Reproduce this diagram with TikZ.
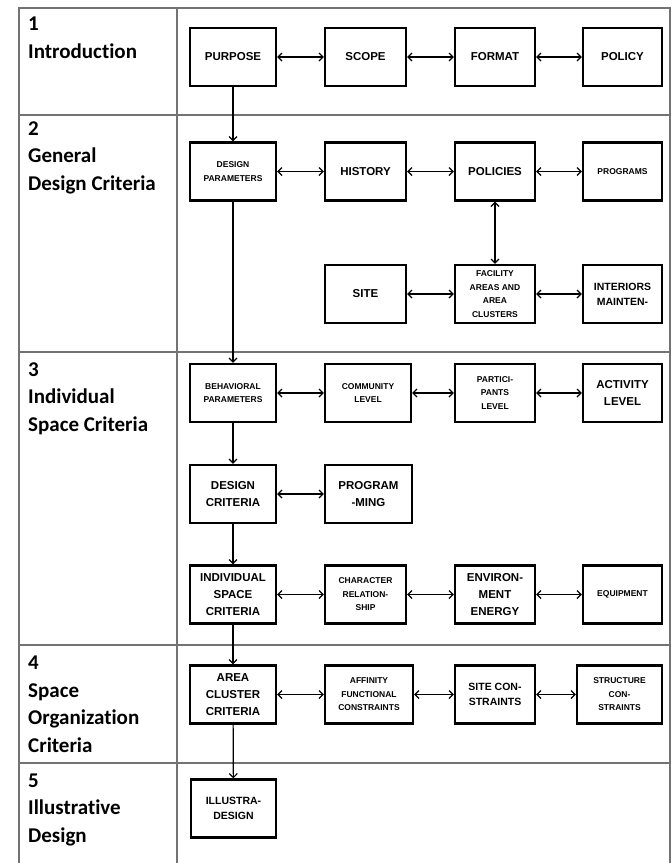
\documentclass[tikz,border=0pt]{standalone}
\usepackage{fontspec}
\usetikzlibrary{arrows.meta}
\newfontfamily\boxfont{Liberation Sans}
\newfontfamily\labfont[Ligatures=NoCommon]{Carlito}

\begin{document}
\begin{tikzpicture}[x=1pt,y=-1pt,
  grid/.style={draw=black!55, line width=1.4pt},
  blk/.style={draw, line width=2.3pt, minimum width=81pt, minimum height=58pt, inner sep=1pt, align=center},
  bigtxt/.style={font=\boxfont\bfseries\fontsize{11.5}{17}\selectfont},
  midtxt/.style={font=\boxfont\bfseries\fontsize{10.5}{15}\selectfont},
  smltxt/.style={font=\boxfont\bfseries\fontsize{8.5}{13.5}\selectfont},
  sect/.style={anchor=base west, align=left, inner sep=0pt, font=\labfont\bfseries\fontsize{21}{27.5}\selectfont},
  link/.style={line width=1.2pt, >={Straight Barb[length=4pt,width=8pt]}}]
\useasboundingbox (0,0) rectangle (672,863);
% table
\draw[grid] (19,863) -- (19,8) -- (670,8) -- (670,863); \draw[grid] (177,8) -- (177,863);
\foreach \y in {115,352,645,763} { \draw[grid] (19,\y) -- (670,\y); };
% section labels (placed at the baseline of the last line)
\node[sect] (s1) at (28,58) {1\\Introduction};
\node[sect] (s2) at (28,190) {2\\General\\Design Criteria};
\node[sect] (s3) at (28,431) {3\\Individual\\Space Criteria};
\node[sect] (s4) at (28,752) {4\\Space\\Organization\\Criteria};
\node[sect] (s5) at (28,842) {5\\Illustrative\\Design};
% 1
\node[blk,bigtxt,minimum width=86pt] (purpose) at (233,57) {PURPOSE};
\node[blk,bigtxt] (scope) at (365.5,57) {SCOPE};
\node[blk,bigtxt,minimum width=80pt] (format) at (495,57) {FORMAT};
\node[blk,bigtxt,minimum width=79pt] (policy) at (622.5,57) {POLICY};
% 2
\node[blk,smltxt,minimum width=86pt] (dparam) at (233,171.5) {DESIGN\\PARAMETERS};
\node[blk,bigtxt] (history) at (365.5,171.5) {HISTORY};
\node[blk,bigtxt,minimum width=80pt] (policies) at (495,171.5) {POLICIES};
\node[blk,smltxt,minimum width=79pt] (programs) at (622.5,171.5) {PROGRAMS};
\node[blk,bigtxt] (site) at (365.5,294) {SITE};
\node[blk,smltxt,minimum width=80pt] (facility) at (495,294) {FACILITY\\AREAS AND\\AREA\\CLUSTERS};
\node[blk,midtxt,minimum width=79pt] (interiors) at (622.5,294) {INTERIORS\\MAINTEN-};
% 3
\node[blk,smltxt,minimum width=86pt] (behav) at (233,393) {BEHAVIORAL\\PARAMETERS};
\node[blk,smltxt,minimum width=86pt] (community) at (368,393) {COMMUNITY\\LEVEL};
\node[blk,smltxt,minimum width=80pt] (particip) at (495,393) {PARTICI-\\PANTS\\LEVEL};
\node[blk,bigtxt,minimum width=79pt] (activity) at (622.5,393) {ACTIVITY\\LEVEL};
\node[blk,bigtxt,minimum width=86pt] (dcrit) at (233,494) {DESIGN\\CRITERIA};
\node[blk,bigtxt,minimum width=87pt] (programming) at (368.5,494) {PROGRAM\\-MING};
\node[blk,bigtxt,minimum width=86pt] (indiv) at (233,594.5) {INDIVIDUAL\\SPACE\\CRITERIA};
\node[blk,smltxt] (character) at (365.5,594.5) {CHARACTER\\RELATION-\\SHIP};
\node[blk,bigtxt,minimum width=80pt] (environ) at (495,594.5) {ENVIRON-\\MENT\\ENERGY};
\node[blk,smltxt,minimum width=79pt] (equip) at (622.5,594.5) {EQUIPMENT};
% 4
\node[blk,bigtxt,minimum width=86pt] (areaclus) at (233,694.5) {AREA\\CLUSTER\\CRITERIA};
\node[blk,smltxt,minimum width=88pt] (affinity) at (369,694.5) {AFFINITY\\FUNCTIONAL\\CONSTRAINTS};
\node[blk,midtxt,minimum width=80pt] (sitecon) at (495,694.5) {SITE CON-\\STRAINTS};
\node[blk,smltxt,minimum width=85pt] (structcon) at (619.5,694.5) {STRUCTURE\\CON-\\STRAINTS};
% 5
\node[blk,midtxt,minimum width=85pt] (illustra) at (233.5,808.5) {ILLUSTRA-\\DESIGN};
% links
\draw[link,<->] (purpose) -- (scope); \draw[link,<->] (scope) -- (format); \draw[link,<->] (format) -- (policy);
\draw[link,<->] (dparam) -- (history); \draw[link,<->] (history) -- (policies); \draw[link,<->] (policies) -- (programs);
\draw[link,<->] (site) -- (facility); \draw[link,<->] (facility) -- (interiors); \draw[link,<->] (policies) -- (facility);
\draw[link,<->] (behav) -- (community); \draw[link,<->] (community) -- (particip); \draw[link,<->] (particip) -- (activity);
\draw[link,<->] (dcrit) -- (programming);
\draw[link,<->] (indiv) -- (character); \draw[link,<->] (character) -- (environ); \draw[link,<->] (environ) -- (equip);
\draw[link,<->] (areaclus) -- (affinity); \draw[link,<->] (affinity) -- (sitecon); \draw[link,<->] (sitecon) -- (structcon);
\draw[link,->] (purpose) -- (dparam); \draw[link,->] (dparam) -- (behav); \draw[link,->] (behav) -- (dcrit);
\draw[link,->] (dcrit) -- (indiv); \draw[link,->] (indiv) -- (areaclus); \draw[link,->] (areaclus) -- (illustra);
\end{tikzpicture}
\end{document}
